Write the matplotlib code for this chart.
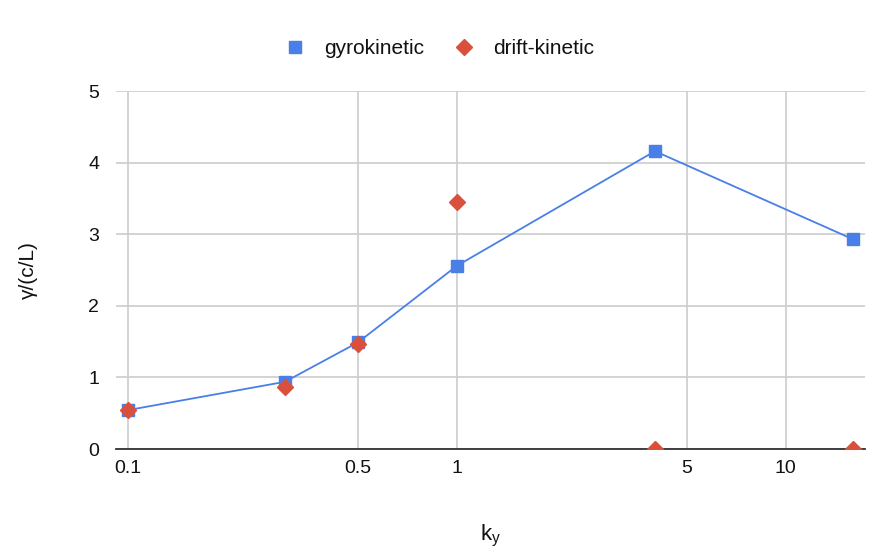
import matplotlib
matplotlib.use('Agg')
from matplotlib import pyplot as plt

plt.rcParams['font.family'] = ['Liberation Sans', 'DejaVu Sans']

# data
ky = [0.1, 0.3, 0.5, 1, 4, 16]
gyro = [0.545, 0.94, 1.49, 2.56, 4.16, 2.93]
drift = [0.55, 0.87, 1.47, 3.45, 0.0, 0.0]
xticks = [0.1, 0.5, 1, 5, 10]
xticklabels = ['0.1', '0.5', '1', '5', '10']
yticks = [0, 1, 2, 3, 4, 5]

blue = '#4a7fe8'
red = '#d9503c'

fig = plt.figure(figsize=(8.79, 5.6), dpi=100)
ax = fig.add_axes([0.132, 0.198, 0.852, 0.6395])

ax.plot(ky, gyro, '-', color=blue, lw=1.3, zorder=3)
ax.plot(ky, gyro, 's', color=blue, markersize=8, label='gyrokinetic', zorder=3)
ax.plot(ky, drift, 'D', color=red, markersize=8,
        label='drift-kinetic', zorder=4)

ax.set_xscale('log')
ax.set_xlim(0.0919, 17.4)
ax.set_ylim(0, 5)
ax.set_xticks(xticks)
ax.set_xticklabels(xticklabels)
ax.xaxis.set_minor_locator(matplotlib.ticker.NullLocator())
ax.set_yticks(yticks)

ax.grid(True, color='#cccccc', lw=1.2)
ax.set_axisbelow(True)
for s in ['top', 'right', 'left']:
    ax.spines[s].set_visible(False)
ax.spines['bottom'].set_color('#333333')
ax.spines['bottom'].set_linewidth(1.3)
ax.spines['bottom'].set_zorder(2)
ax.tick_params(length=0, labelsize=14, colors='#111111', pad=8)
ax.tick_params(axis='y', pad=12)

ax.set_xlabel(r'k$_\mathregular{y}$', fontsize=16, labelpad=33, color='#111111')
ax.set_ylabel('γ/(c/L)', fontsize=15, labelpad=36, color='#111111')

fig.legend(loc='center', bbox_to_anchor=(0.5, 0.913), ncol=2, frameon=False,
           fontsize=15, handletextpad=0.9, columnspacing=1.4,
           handlelength=1.0, labelcolor='#111111')

plt.savefig('out.png', dpi=100)
